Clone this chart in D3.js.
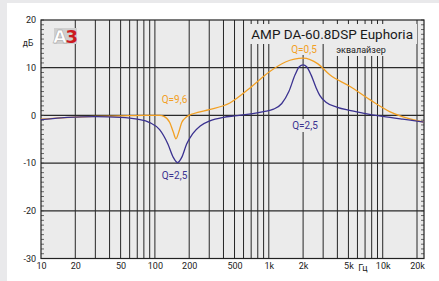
<!DOCTYPE html>
<html>
<head>
<meta charset="utf-8">
<script src="https://cdn.jsdelivr.net/npm/d3@7"></script>
<style>
  body { margin: 0; background: #e9e9eb; }
  svg { display: block; font-family: Roboto, "DejaVu Sans", sans-serif; }
</style>
</head>
<body>
<svg width="439" height="281"></svg>
<script>
// --- données ---
const freqTicks = [10, 20, 50, 100, 200, 500, 1000, 2000, 5000, 10000, 20000];
const freqLabels = ["10", "20", "50", "100", "200", "500", "1k", "2k", "5k", "10k", "20k"];
const gridFreqs = [20, 30, 40, 50, 60, 70, 80, 90, 100, 200, 300, 400, 500, 600, 700, 800, 900,
  1000, 2000, 3000, 4000, 5000, 6000, 7000, 8000, 9000, 10000, 20000];
const dbTicks = [20, 10, 0, -10, -20, -30];

// courbe bleue (Q=2,5 / Q=2,5)
const blueFreq = [10, 15, 20, 30, 50, 70, 90, 110, 130, 145, 158, 172, 190, 215, 250, 300, 400, 500,
  700, 900, 1100, 1300, 1500, 1700, 1850, 2000, 2150, 2350, 2600, 2800, 3200, 4000, 5000, 6700, 10000, 15000, 20000, 23000];
const blueDb = [-0.9, -0.5, -0.35, -0.25, -0.4, -0.8, -1.5, -3.0, -6.0, -8.8, -9.9, -8.8, -6.0, -3.8, -2.2, -1.2, -0.4, -0.1,
  0.3, 0.8, 1.3, 2.5, 5.0, 8.5, 10.2, 10.6, 10.2, 8.5, 5.8, 4.2, 2.7, 1.7, 1.1, 0.5, -0.2, -0.8, -1.2, -1.4];

// courbe orange (Q=9,6 / Q=0,5)
const orangeFreq = [10, 15, 20, 30, 50, 80, 110, 120, 135, 145, 153, 162, 172, 190, 220, 300, 455, 680,
  1020, 1400, 2000, 2700, 3430, 5130, 7700, 11500, 20000, 23000];
const orangeDb = [-0.8, -0.5, -0.35, -0.2, -0.1, 0, 0, -0.2, -1.5, -3.5, -4.9, -3.5, -1.5, -0.3, 0.4, 1.2, 2.6, 5.7,
  9.2, 11.2, 12.0, 10.8, 8.5, 6.1, 3.3, 0.8, -1.1, -1.4];

const BLUE = "#3b3290";
const ORANGE = "#f2a024";
const BG = "#ebebeb";

// --- dimensions ---
const pLeft = 41, pRight = 424, pTop = 20, pBottom = 258.5;
const x = d3.scaleLog().domain([10, 20000]).range([pLeft, 417]);
const y = d3.scaleLinear().domain([-30, 20]).range([pBottom, pTop]);

const svg = d3.select("svg");

// carte blanche
svg.append("rect").attr("x", 7).attr("y", 3).attr("width", 432).attr("height", 278).attr("fill", "#fff");

// fond du graphe
svg.append("rect")
  .attr("x", pLeft).attr("y", pTop)
  .attr("width", pRight - pLeft).attr("height", pBottom - pTop)
  .attr("fill", BG);

// grille verticale
svg.append("g").selectAll("line").data(gridFreqs).enter().append("line")
  .attr("x1", (d) => x(d)).attr("x2", (d) => x(d))
  .attr("y1", pTop).attr("y2", pBottom)
  .attr("stroke", "#262626").attr("stroke-width", 1);

// grille horizontale
svg.append("g").selectAll("line").data(dbTicks.slice(1, 5)).enter().append("line")
  .attr("x1", pLeft).attr("x2", pRight)
  .attr("y1", (d) => y(d)).attr("y2", (d) => y(d))
  .attr("stroke", "#2a2a2a").attr("stroke-width", 1.3);

// petites graduations (1 dB) à gauche et à droite
const minor = d3.range(-30, 21, 1);
svg.append("g").selectAll("line").data(minor).enter().append("line")
  .attr("x1", pLeft).attr("x2", pLeft + 3)
  .attr("y1", (d) => y(d)).attr("y2", (d) => y(d))
  .attr("stroke", "#444").attr("stroke-width", 0.8);
svg.append("g").selectAll("line").data(minor).enter().append("line")
  .attr("x1", pRight - 3).attr("x2", pRight)
  .attr("y1", (d) => y(d)).attr("y2", (d) => y(d))
  .attr("stroke", "#444").attr("stroke-width", 0.8);

// cadre
svg.append("rect")
  .attr("x", pLeft).attr("y", pTop)
  .attr("width", pRight - pLeft).attr("height", pBottom - pTop)
  .attr("fill", "none").attr("stroke", "#222").attr("stroke-width", 1.2);

// caches derrière les textes
svg.append("rect").attr("x", 245).attr("y", 24).attr("width", 172).attr("height", 20).attr("fill", BG);
svg.append("rect").attr("x", 288).attr("y", 43).attr("width", 32).attr("height", 12).attr("fill", BG);
svg.append("rect").attr("x", 333).attr("y", 44).attr("width", 56).attr("height", 12).attr("fill", BG);
svg.append("rect").attr("x", 288).attr("y", 119).attr("width", 34).attr("height", 13).attr("fill", BG);

// courbes
svg.append("clipPath").attr("id", "clip").append("rect")
  .attr("x", pLeft).attr("y", pTop).attr("width", pRight - pLeft).attr("height", pBottom - pTop);

const line = d3.line()
  .x((d) => x(d.f))
  .y((d) => y(d.v))
  .curve(d3.curveMonotoneX);

const series = [
  { color: ORANGE, pts: orangeFreq.map((f, i) => ({ f: f, v: orangeDb[i] })) },
  { color: BLUE, pts: blueFreq.map((f, i) => ({ f: f, v: blueDb[i] })) },
];

svg.append("g").attr("clip-path", "url(#clip)")
  .selectAll("path").data(series).enter().append("path")
  .attr("fill", "none")
  .attr("stroke", (d) => d.color)
  .attr("stroke-width", 1.3)
  .attr("d", (d) => line(d.pts));

// axes
const yAxis = d3.axisLeft(y).tickValues(dbTicks).tickSize(0).tickPadding(5)
  .tickFormat((d) => String(d));
const gy = svg.append("g").attr("transform", "translate(" + pLeft + ",0)").call(yAxis);
gy.select(".domain").remove();
gy.selectAll("text").attr("font-size", 9).attr("fill", "#222").attr("font-family", "Roboto");

const xAxis = d3.axisBottom(x).tickValues(freqTicks).tickSize(0).tickPadding(4)
  .tickFormat((d, i) => freqLabels[i]);
const gx = svg.append("g").attr("transform", "translate(0," + pBottom + ")").call(xAxis);
gx.select(".domain").remove();
gx.selectAll("text").attr("font-size", 9).attr("fill", "#222").attr("font-family", "Roboto");

svg.append("text").attr("x", 363).attr("y", 271).attr("text-anchor", "middle")
  .attr("font-size", 9).attr("fill", "#222").text("Гц");
svg.append("text").attr("x", 28).attr("y", 46).attr("text-anchor", "middle")
  .attr("font-size", 8.5).attr("fill", "#222").text("дБ");

// titre
svg.append("text").attr("x", 413).attr("y", 39).attr("text-anchor", "end")
  .attr("font-size", 13.5).attr("fill", "#1a1a1a").text("AMP DA-60.8DSP Euphoria");
svg.append("text").attr("x", 361).attr("y", 53).attr("text-anchor", "middle")
  .attr("font-size", 9).attr("fill", "#222").text("эквалайзер");

// étiquettes Q
const labels = [
  { t: "Q=0,5", x: 304, y: 53, c: ORANGE },
  { t: "Q=9,6", x: 174.5, y: 103, c: ORANGE },
  { t: "Q=2,5", x: 174.5, y: 179, c: BLUE },
  { t: "Q=2,5", x: 305, y: 129, c: BLUE },
];
svg.append("g").selectAll("text").data(labels).enter().append("text")
  .attr("x", (d) => d.x).attr("y", (d) => d.y)
  .attr("text-anchor", "middle")
  .attr("font-size", 10).attr("fill", (d) => d.c)
  .text((d) => d.t);

// logo A3
svg.append("rect").attr("x", 54).attr("y", 28).attr("width", 23).attr("height", 16).attr("fill", "#cfcfcf");
const logo = svg.append("text").attr("x", 53).attr("y", 43)
  .attr("font-size", 18).attr("font-weight", "bold").attr("font-family", "DejaVu Sans")
  .attr("letter-spacing", -1.5);
logo.append("tspan").attr("fill", "#fff").attr("stroke", "#999").attr("stroke-width", 0.5).text("A");
logo.append("tspan").attr("fill", "#cc1a1f").text("3");
</script>
</body>
</html>
